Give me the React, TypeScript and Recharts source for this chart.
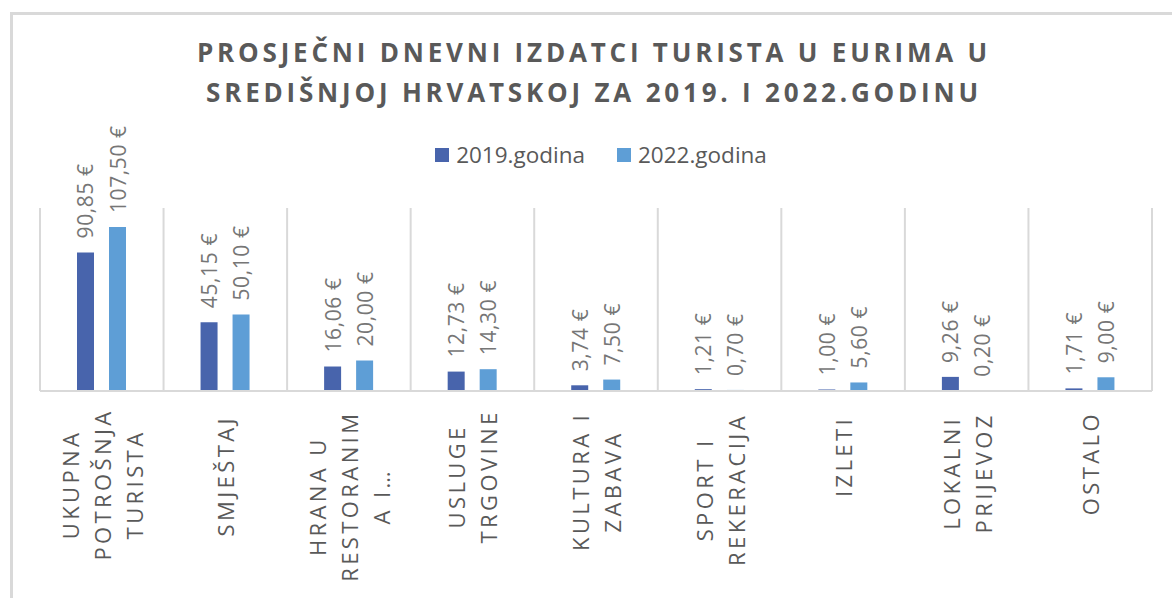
import { BarChart, Bar, XAxis, YAxis, CartesianGrid, LabelList } from 'recharts'

const categories = [
  'UKUPNA\nPOTROŠNJA\nTURISTA',
  'SMJEŠTAJ',
  'HRANA U\nRESTORANIM\nA I…',
  'USLUGE\nTRGOVINE',
  'KULTURA I\nZABAVA',
  'SPORT I\nREKERACIJA',
  'IZLETI',
  'LOKALNI\nPRIJEVOZ',
  'OSTALO',
]
const values2019 = [90.85, 45.15, 16.06, 12.73, 3.74, 1.21, 1.0, 9.26, 1.71]
const values2022 = [107.5, 50.1, 20.0, 14.3, 7.5, 0.7, 5.6, 0.2, 9.0]
const seriesNames = ['2019.godina', '2022.godina']
const COLORS = ['#4864ac', '#5e9ed6']

const data = categories.map((name, i) => ({ name, y2019: values2019[i], y2022: values2022[i] }))

const fmt = (v: number) => v.toFixed(2).replace('.', ',') + ' €'

const SPACING = 3.4
// rough width of a line of the axis labels (letter-spaced caps)
const lineLen = (s: string) =>
  s.split('').reduce((a, c) => a + (c === 'I' || c === ' ' ? 10 : c === '…' ? 20 : c === 'M' ? 23 : c === 'J' ? 9.5 : 16.6), 0)

// per-character dx to fake letter spacing in svg
const spaced = (s: string, sp: number) => s.split('').map((_, k) => (k === 0 ? 0 : sp)).join(' ')

const CategoryTick = (props: any) => {
  const { x, y, payload } = props
  const lines: string[] = String(payload.value).split('\n')
  const top = y + 16
  const maxLen = Math.max(...lines.map(lineLen))
  const cy = top + maxLen / 2
  return (
    <g>
      {lines.map((l, i) => {
        const lx = x + (i - (lines.length - 1) / 2) * 32
        return (
          <text
            key={i}
            x={lx}
            y={cy}
            dx={spaced(l, SPACING)}
            transform={`rotate(-90, ${lx}, ${cy})`}
            textAnchor="middle"
            dominantBaseline="central"
            fill="#595959"
            fontSize={22}
            fontFamily="'Open Sans', sans-serif"
          >
            {l}
          </text>
        )
      })}
    </g>
  )
}

const ValueLabel = (props: any) => {
  const { x, y, width, value } = props
  const cx = x + width / 2
  const ty = y - 14
  const s = fmt(value)
  return (
    <text
      x={cx}
      y={ty}
      dx={spaced(s, 0.6)}
      transform={`rotate(-90, ${cx}, ${ty})`}
      textAnchor="start"
      dominantBaseline="central"
      fill="#767676"
      fontSize={21}
      fontFamily="'Open Sans', sans-serif"
    >
      {s}
    </text>
  )
}

export default function App() {
  return (
    <div style={{ position: 'absolute', left: 0, top: 0, width: 1172, height: 598, overflow: 'hidden', background: '#fff' }}>
      <div style={{ position: 'absolute', left: 10, top: 12, width: 1200, height: 700, border: '3px solid #d9d9d9' }} />
      <div
        style={{
          position: 'absolute', left: 0, top: 32, width: 1188, textAlign: 'center',
          fontFamily: "'Open Sans', sans-serif", fontWeight: 700, fontSize: 26, letterSpacing: 3.8,
          lineHeight: '40px', color: '#595959',
        }}
      >
        PROSJEČNI DNEVNI IZDATCI TURISTA U EURIMA U<br />SREDIŠNJOJ HRVATSKOJ ZA 2019. I 2022.GODINU
      </div>
      <div
        style={{
          position: 'absolute', left: 0, top: 139, width: 1202, display: 'flex', justifyContent: 'center',
          alignItems: 'center', gap: 32, fontFamily: "'Open Sans', sans-serif", fontSize: 22.5, color: '#595959',
        }}
      >
        {seriesNames.map((n, i) => (
          <div key={n} style={{ display: 'flex', alignItems: 'center', gap: 7 }}>
            <span style={{ width: 14, height: 14, background: COLORS[i], display: 'inline-block' }} />
            <span>{n}</span>
          </div>
        ))}
      </div>
      <div style={{ position: 'absolute', left: 0, top: 0 }}>
        <BarChart width={1172} height={598} data={data} margin={{ top: 208, right: 20, left: 40, bottom: 0 }} barSize={17} barGap={15}>
          <CartesianGrid
            horizontal={false}
            stroke="#d9d9d9"
            strokeWidth={2}
            verticalCoordinatesGenerator={({ offset }: any) =>
              categories.map((_, i) => offset.left + (i * offset.width) / categories.length).concat(offset.left + offset.width)
            }
          />
          <XAxis dataKey="name" height={207} interval={0} tickLine={false} axisLine={{ stroke: '#d9d9d9', strokeWidth: 2 }} tick={<CategoryTick />} />
          <YAxis hide domain={[0, 120]} />
          <Bar dataKey="y2019" name={seriesNames[0]} fill={COLORS[0]} isAnimationActive={false}>
            <LabelList dataKey="y2019" content={<ValueLabel />} />
          </Bar>
          <Bar dataKey="y2022" name={seriesNames[1]} fill={COLORS[1]} isAnimationActive={false}>
            <LabelList dataKey="y2022" content={<ValueLabel />} />
          </Bar>
        </BarChart>
      </div>
    </div>
  )
}
